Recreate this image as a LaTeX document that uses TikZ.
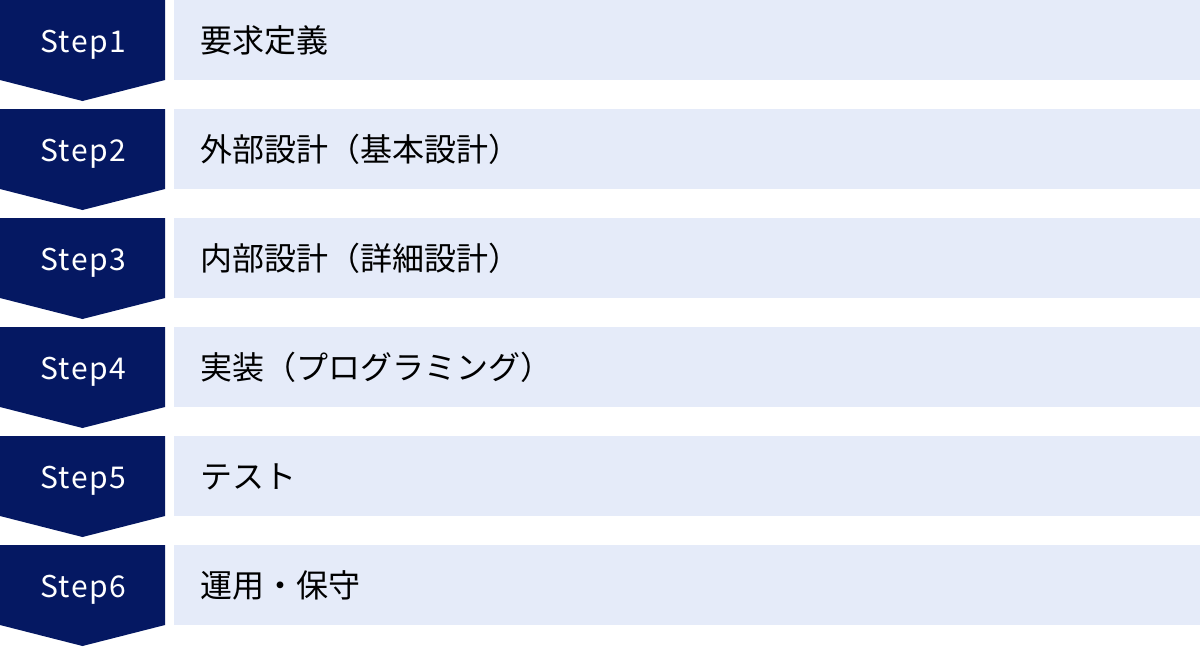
\documentclass[tikz,border=0pt]{standalone}
\usepackage{fontspec}
\setmainfont{Noto Sans CJK JP}
\newfontfamily\stepfont[LetterSpace=5]{Noto Sans CJK JP}
\definecolor{navy}{HTML}{051862}
\definecolor{pale}{HTML}{E5EBF9}
\begin{document}
\begin{tikzpicture}[x=0.75pt,y=-0.75pt,
  arrowbox/.style={fill=navy},
  taskbox/.style={fill=pale},
  steplabel/.style={text=white, inner sep=0pt, anchor=base, font=\stepfont\fontsize{22.5}{22.5}\selectfont},
  tasklabel/.style={text=black, inner sep=0pt, anchor=base west, font=\fontsize{24}{24}\selectfont}]
\useasboundingbox (0,0) rectangle (1200,647);

\path[arrowbox] (0,0) -- (165,0) -- (165,80) -- (82.5,101) -- (0,80) -- cycle;
\path[arrowbox] (0,109) -- (165,109) -- (165,189) -- (82.5,210) -- (0,189) -- cycle;
\path[arrowbox] (0,218) -- (165,218) -- (165,298) -- (82.5,319) -- (0,298) -- cycle;
\path[arrowbox] (0,327) -- (165,327) -- (165,407) -- (82.5,428) -- (0,407) -- cycle;
\path[arrowbox] (0,436) -- (165,436) -- (165,516) -- (82.5,537) -- (0,516) -- cycle;
\path[arrowbox] (0,545) -- (165,545) -- (165,625) -- (82.5,646) -- (0,625) -- cycle;

\path[taskbox] (174,0) rectangle (1200,80);
\path[taskbox] (174,109) rectangle (1200,189);
\path[taskbox] (174,218) rectangle (1200,298);
\path[taskbox] (174,327) rectangle (1200,407);
\path[taskbox] (174,436) rectangle (1200,516);
\path[taskbox] (174,545) rectangle (1200,625);

\node[steplabel] (s1) at (83,52) {Step1};
\node[steplabel] (s2) at (83,161) {Step2};
\node[steplabel] (s3) at (83,270) {Step3};
\node[steplabel] (s4) at (83,379) {Step4};
\node[steplabel] (s5) at (83,488) {Step5};
\node[steplabel] (s6) at (83,597) {Step6};

\node[tasklabel] (t1) at (200,52) {要求定義};
\node[tasklabel] (t2) at (200,161) {外部設計（基本設計）};
\node[tasklabel] (t3) at (200,270) {内部設計（詳細設計）};
\node[tasklabel] (t4) at (200,379) {実装（プログラミング）};
\node[tasklabel] (t5) at (200,488) {テスト};
\node[tasklabel] (t6) at (200,597) {運用・保守};
\end{tikzpicture}
\end{document}
